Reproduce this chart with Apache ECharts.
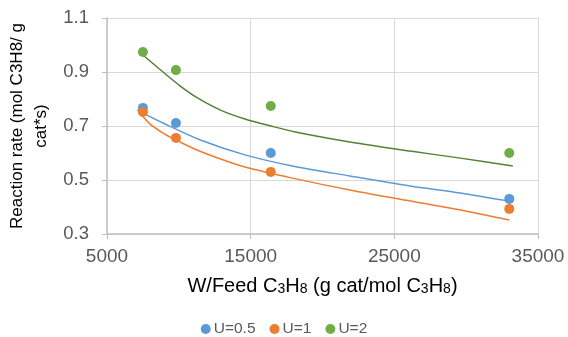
<!DOCTYPE html>
<html>
<head>
<meta charset="utf-8">
<script src="https://cdn.jsdelivr.net/npm/echarts@6/dist/echarts.min.js"></script>
<style>html,body{margin:0;padding:0;background:#fff;}#c{width:568px;height:337px;}</style>
</head>
<body>
<div id="c"></div>
<script>
// Measured points
const feedX = [7500, 9800, 16400, 33000];
const rateU05 = [0.767, 0.711, 0.600, 0.430];
const rateU1 = [0.752, 0.656, 0.530, 0.393];
const rateU2 = [0.974, 0.907, 0.774, 0.600];

// Trend lines
const trendU05X = [7100, 8900, 11500, 14600, 17900, 21900, 26100, 29600, 33250];
const trendU05Y = [0.759, 0.711, 0.648, 0.593, 0.552, 0.515, 0.478, 0.452, 0.419];
const trendU1X = [7300, 8000, 8900, 9800, 11100, 12900, 14600, 17900, 21900, 26100, 29600, 33000];
const trendU1Y = [0.748, 0.707, 0.674, 0.648, 0.615, 0.578, 0.548, 0.507, 0.463, 0.422, 0.389, 0.352];
const trendU2X = [7500, 8900, 10100, 11300, 12900, 14600, 16400, 18100, 21900, 26100, 29600, 33250];
const trendU2Y = [0.963, 0.900, 0.848, 0.804, 0.759, 0.726, 0.700, 0.678, 0.641, 0.607, 0.581, 0.552];

const seriesNames = ['U=0.5', 'U=1', 'U=2'];
const yTicks = [0.3, 0.5, 0.7, 0.9, 1.1];
const xTicks = [5000, 15000, 25000, 35000];

const zip = (a, b) => a.map((v, i) => [v, b[i]]);
const font = '"Liberation Sans", Arial, sans-serif';
const colors = ['#5B9BD5', '#ED7D31', '#70AD47'];
const lineColors = ['#5B9BD5', '#ED7D31', '#548235'];

const chart = echarts.init(document.getElementById('c'));
const trend = (name, x, y, c) => ({
  name, type: 'line', data: zip(x, y), smooth: 0.3,
  showSymbol: false, lineStyle: { color: c, width: 1.5 }, silent: true, z: 2
});
const dots = (name, y, c) => ({
  name, type: 'scatter', data: zip(feedX, y), symbolSize: 10,
  itemStyle: { color: c, opacity: 1 }, z: 3
});
chart.setOption({
  animation: false,
  textStyle: { fontFamily: font },
  grid: { left: 107, right: 30, top: 18, bottom: 103, containLabel: false, outerBoundsMode: 'none' },
  legend: {
    data: seriesNames,
    top: 316,
    left: 'center',
    icon: 'circle',
    itemWidth: 10,
    itemHeight: 10,
    itemGap: 14,
    textStyle: { fontSize: 15.5, color: '#595959', fontFamily: font, padding: [0, 0, 0, -2] }
  },
  xAxis: {
    type: 'value',
    min: 5000, max: 35000, interval: 10000,
    name: '{n|W/Feed C}{s|3}{n|H}{s|8}{n| (g cat/mol C}{s|3}{n|H}{s|8}{n|)}',
    nameLocation: 'middle',
    nameGap: 40,
    nameTextStyle: {
      rich: {
        n: { fontSize: 20, color: '#000', fontFamily: font, verticalAlign: 'bottom', lineHeight: 22 },
        s: { fontSize: 14, color: '#000', fontFamily: font, verticalAlign: 'bottom', lineHeight: 19 }
      }
    },
    axisLine: { show: true, lineStyle: { color: '#bfbfbf', width: 1.5 } },
    axisTick: { show: true, length: 5, lineStyle: { color: '#bfbfbf' } },
    axisLabel: { fontSize: 19, color: '#595959', margin: 13, fontFamily: font, formatter: v => String(v), hideOverlap: false },
    splitLine: { show: true, lineStyle: { color: '#d9d9d9', width: 1 } }
  },
  yAxis: {
    type: 'value',
    min: 0.3, max: 1.1, interval: 0.2,
    name: 'Reaction rate (mol C3H8/ g\ncat*s)',
    nameLocation: 'middle',
    nameGap: 54,
    nameRotate: 90,
    nameMoveOverlap: false,
    nameTextStyle: { fontSize: 17, color: '#000', fontFamily: font, lineHeight: 24 },
    axisLine: { show: true, lineStyle: { color: '#bfbfbf', width: 1.5 } },
    axisTick: { show: true, length: 5, lineStyle: { color: '#bfbfbf' } },
    axisLabel: { fontSize: 18.5, color: '#595959', margin: 18, fontFamily: font, formatter: v => v.toFixed(1) },
    splitLine: { show: true, lineStyle: { color: '#d9d9d9', width: 1 } }
  },
  series: [
    trend('trend0.5', trendU05X, trendU05Y, lineColors[0]),
    trend('trend1', trendU1X, trendU1Y, lineColors[1]),
    trend('trend2', trendU2X, trendU2Y, lineColors[2]),
    dots(seriesNames[0], rateU05, colors[0]),
    dots(seriesNames[1], rateU1, colors[1]),
    dots(seriesNames[2], rateU2, colors[2])
  ]
});
</script>
</body>
</html>
